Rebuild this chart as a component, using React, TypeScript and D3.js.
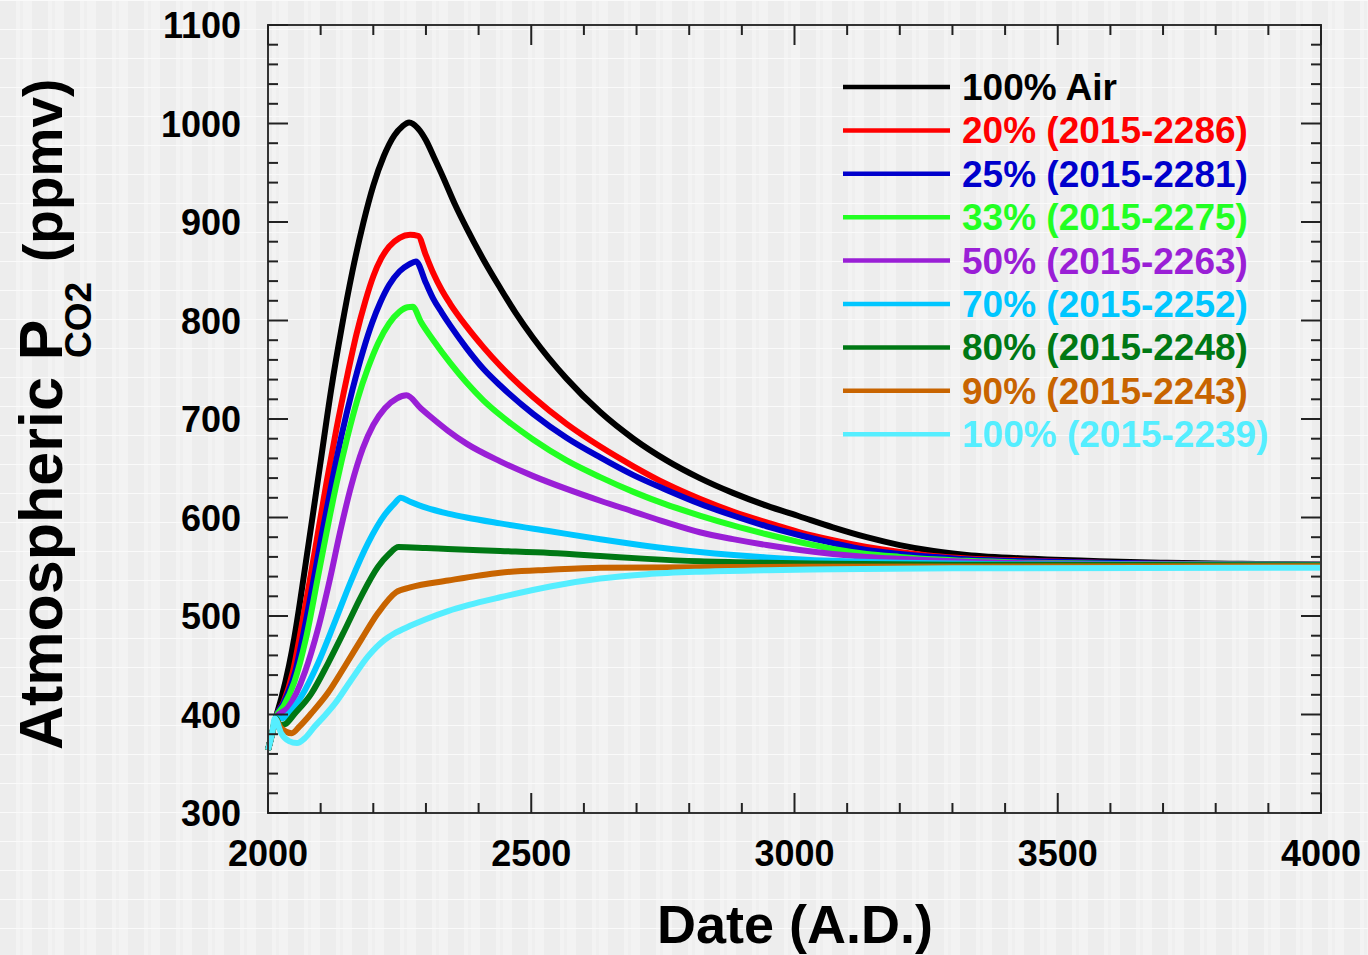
import * as d3 from "d3";

// [year, ppmv]
const airData = [
  [2000, 364], [2008, 381], [2015, 397], [2025, 416], [2040, 450], [2050, 478], [2061, 515],
  [2072, 555], [2085, 602], [2100, 657], [2120, 730], [2140, 793], [2160, 849], [2181, 899],
  [2200, 937], [2220, 967], [2240, 988], [2255, 997], [2268, 1001], [2285, 995], [2300, 983],
  [2315, 966], [2333, 945], [2355, 918], [2377, 894], [2409, 862], [2441, 833], [2470, 808],
  [2504, 782], [2567, 741], [2631, 707], [2694, 680], [2757, 658], [2820, 640], [2883, 625],
  [2947, 612], [3010, 601], [3073, 590], [3137, 580], [3200, 572], [3264, 566], [3327, 562],
  [3453, 558], [3580, 555.5], [3707, 554], [3850, 553], [4000, 552],
];
const p20Data = [
  [2000, 364], [2008, 381], [2015, 397], [2030, 413], [2047, 443], [2063, 487], [2079, 535],
  [2095, 585], [2111, 635], [2130, 690], [2149, 740], [2168, 786], [2185, 820], [2200, 845],
  [2215, 863], [2230, 875], [2250, 884], [2270, 887], [2285, 886], [2300, 866], [2314, 848],
  [2330, 831], [2346, 817], [2377, 794], [2409, 773], [2441, 754], [2504, 722], [2567, 695],
  [2631, 672], [2694, 652], [2757, 634], [2820, 619], [2883, 606], [2947, 595], [3010, 585],
  [3073, 577], [3137, 570], [3200, 565], [3264, 561], [3327, 558.5], [3453, 556], [3580, 554],
  [3707, 553], [3850, 552.5], [4000, 552],
];
const p25Data = [
  [2000, 364], [2008, 381], [2015, 397], [2030, 412], [2051, 442], [2068, 484], [2085, 532],
  [2102, 582], [2120, 632], [2140, 684], [2160, 729], [2181, 770], [2198, 798], [2213, 818],
  [2230, 836], [2250, 850], [2268, 857], [2281, 860], [2300, 838], [2314, 822], [2330, 808],
  [2346, 795], [2377, 772], [2409, 751], [2441, 734], [2504, 705], [2567, 681], [2631, 661],
  [2694, 643], [2757, 628], [2820, 614], [2883, 602], [2947, 591], [3010, 582], [3073, 574],
  [3137, 567], [3200, 563], [3264, 560], [3327, 557.5], [3453, 555.5], [3580, 554], [3707, 553],
  [3850, 552.5], [4000, 552],
];
const p33Data = [
  [2000, 364], [2008, 381], [2015, 397], [2030, 409], [2050, 433], [2072, 477], [2095, 540],
  [2112, 587], [2130, 634], [2150, 680], [2170, 720], [2190, 752], [2210, 778], [2230, 797],
  [2250, 809], [2265, 813.5], [2275, 814], [2290, 799], [2314, 780], [2346, 757], [2377, 737],
  [2409, 719], [2441, 704], [2504, 679], [2567, 658], [2631, 641], [2694, 626], [2757, 613],
  [2820, 602], [2883, 592], [2947, 583], [3010, 575], [3073, 568], [3137, 563], [3200, 560],
  [3264, 557.5], [3327, 556], [3453, 554], [3580, 553], [3707, 552.5], [4000, 552],
];
const p50Data = [
  [2000, 364], [2008, 381], [2015, 397], [2038, 407], [2070, 443], [2095, 487], [2117, 536],
  [2138, 588], [2158, 632], [2180, 670], [2200, 694], [2222, 711], [2245, 721], [2263, 724],
  [2290, 711], [2314, 700], [2342, 688], [2377, 675], [2441, 657], [2504, 642], [2567, 629],
  [2631, 617], [2694, 606], [2757, 595], [2820, 585], [2883, 578], [2947, 572], [3010, 567],
  [3073, 563], [3137, 560], [3200, 558], [3327, 555], [3453, 553.5], [3600, 552.5], [4000, 552],
];
const p70Data = [
  [2000, 364], [2008, 381], [2015, 397], [2025, 396], [2040, 401], [2063, 418], [2095, 452],
  [2127, 494], [2158, 536], [2190, 574], [2222, 603], [2240, 614], [2252, 620], [2270, 616],
  [2300, 610], [2342, 604], [2377, 600], [2441, 594], [2536, 586], [2631, 578], [2720, 571],
  [2820, 565], [2947, 559.5], [3073, 556], [3200, 554], [3400, 552.5], [4000, 551.5],
];
const p80Data = [
  [2000, 364], [2008, 381], [2015, 396], [2023, 389], [2032, 390], [2051, 401], [2082, 421],
  [2114, 452], [2146, 486], [2177, 520], [2209, 550], [2230, 563], [2248, 570], [2300, 569],
  [2342, 568], [2441, 566], [2536, 564], [2631, 561], [2720, 558], [2820, 555.5], [2947, 554],
  [3073, 553], [3300, 552], [4000, 551.5],
];
const p90Data = [
  [2000, 364], [2008, 381], [2014, 395], [2025, 386], [2045, 381], [2060, 388], [2082, 401],
  [2114, 422], [2146, 449], [2177, 476], [2209, 503], [2243, 524], [2270, 529], [2342, 536],
  [2441, 544], [2536, 547], [2631, 549], [2820, 549.5], [3000, 550], [4000, 550.5],
];
const p100Data = [
  [2000, 364], [2008, 381], [2013, 396], [2025, 381], [2040, 373], [2055, 371], [2070, 376],
  [2089, 388], [2108, 399], [2127, 411], [2158, 435], [2190, 459], [2222, 476], [2239, 482],
  [2270, 490], [2301, 497], [2342, 505], [2380, 511], [2441, 519], [2536, 530], [2631, 538],
  [2720, 542.5], [2820, 545], [2947, 546.5], [3073, 547.5], [3300, 548.5], [4000, 549],
];

const seriesLabels = [
  "100% Air", "20% (2015-2286)", "25% (2015-2281)", "33% (2015-2275)", "50% (2015-2263)",
  "70% (2015-2252)", "80% (2015-2248)", "90% (2015-2243)", "100% (2015-2239)",
];
const seriesColors = [
  "#000000", "#ff0000", "#0000cc", "#22ff22", "#9a1fd6",
  "#00c6ff", "#007814", "#c86400", "#55eeff",
];
const seriesData = [airData, p20Data, p25Data, p33Data, p50Data, p70Data, p80Data, p90Data, p100Data];

const xTickLabels = [2000, 2500, 3000, 3500, 4000];
const yTickLabels = [300, 400, 500, 600, 700, 800, 900, 1000, 1100];

const W = 1368;
const H = 955;
const left = 268, right = 1321, top = 25, bottom = 813;
const FONT = "'Liberation Sans', Arial, Helvetica, sans-serif";

export default function App() {
  const x = d3.scaleLinear().domain([2000, 4000]).range([left, right]);
  const y = d3.scaleLinear().domain([300, 1100]).range([bottom, top]);
  const line = d3
    .line<number[]>()
    .x((d) => x(d[0]))
    .y((d) => y(d[1]))
    .curve(d3.curveMonotoneX);

  const xMinor = d3.range(2000, 4001, 100);
  const yMinor = d3.range(300, 1101, 20);

  return (
    <svg
      width={W}
      height={H}
      style={{ position: "absolute", left: 0, top: 0, display: "block" }}
    >
      <defs>
        <pattern id="pin" width={32} height={29} patternUnits="userSpaceOnUse">
          <rect width={32} height={29} fill="#f3f3f3" />
          <rect x={0} width={16} height={29} fill="#ededed" />
          <rect x={20} width={3} height={29} fill="#efefef" />
          <rect y={0} width={32} height={1} fill="#fafafa" />
        </pattern>
      </defs>
      <rect width={W} height={H} fill="url(#pin)" />

      {/* curves */}
      <g fill="none" strokeLinejoin="round" strokeLinecap="butt">
        {seriesData.map((d, i) => (
          <path key={i} d={line(d) || ""} stroke={seriesColors[i]} strokeWidth={6} />
        ))}
      </g>

      {/* frame */}
      <rect
        x={left}
        y={top}
        width={right - left}
        height={bottom - top}
        fill="none"
        stroke="#333"
        strokeWidth={2}
      />

      {/* ticks */}
      <g stroke="#222" strokeWidth={2}>
        {xMinor.map((v) => {
          const len = v % 500 === 0 ? 20 : 10;
          return (
            <g key={"x" + v}>
              <line x1={x(v)} x2={x(v)} y1={bottom} y2={bottom - len} />
              <line x1={x(v)} x2={x(v)} y1={top} y2={top + len} />
            </g>
          );
        })}
        {yMinor.map((v) => {
          const len = v % 100 === 0 ? 20 : 10;
          return (
            <g key={"y" + v}>
              <line x1={left} x2={left + len} y1={y(v)} y2={y(v)} />
              <line x1={right} x2={right - len} y1={y(v)} y2={y(v)} />
            </g>
          );
        })}
      </g>

      {/* tick labels */}
      <g fontFamily={FONT} fontWeight="bold" fontSize={36} fill="#000">
        {xTickLabels.map((v) => (
          <text key={v} x={x(v)} y={866} textAnchor="middle">
            {v}
          </text>
        ))}
        {yTickLabels.map((v) => (
          <text key={v} x={241} y={y(v) + 13} textAnchor="end">
            {v}
          </text>
        ))}
      </g>

      {/* axis titles */}
      <text
        x={795}
        y={943}
        textAnchor="middle"
        fontFamily={FONT}
        fontWeight="bold"
        fontSize={54}
      >
        Date (A.D.)
      </text>
      <g fontFamily={FONT} fontWeight="bold" fill="#000">
        <text transform="translate(62,750) rotate(-90)" fontSize={61}>
          Atmospheric P
        </text>
        <text transform="translate(91,358) rotate(-90)" fontSize={37}>
          CO2
        </text>
        <text transform="translate(62,262) rotate(-90)" fontSize={55}>
          (ppmv)
        </text>
      </g>

      {/* legend */}
      <g fontFamily={FONT} fontWeight="bold" fontSize={37}>
        {seriesLabels.map((s, i) => {
          const ly = 87 + i * 43.4;
          return (
            <g key={s}>
              <line x1={843} x2={950} y1={ly} y2={ly} stroke={seriesColors[i]} strokeWidth={4.5} />
              <text x={962} y={ly + 13} fill={seriesColors[i]}>
                {s}
              </text>
            </g>
          );
        })}
      </g>
    </svg>
  );
}
